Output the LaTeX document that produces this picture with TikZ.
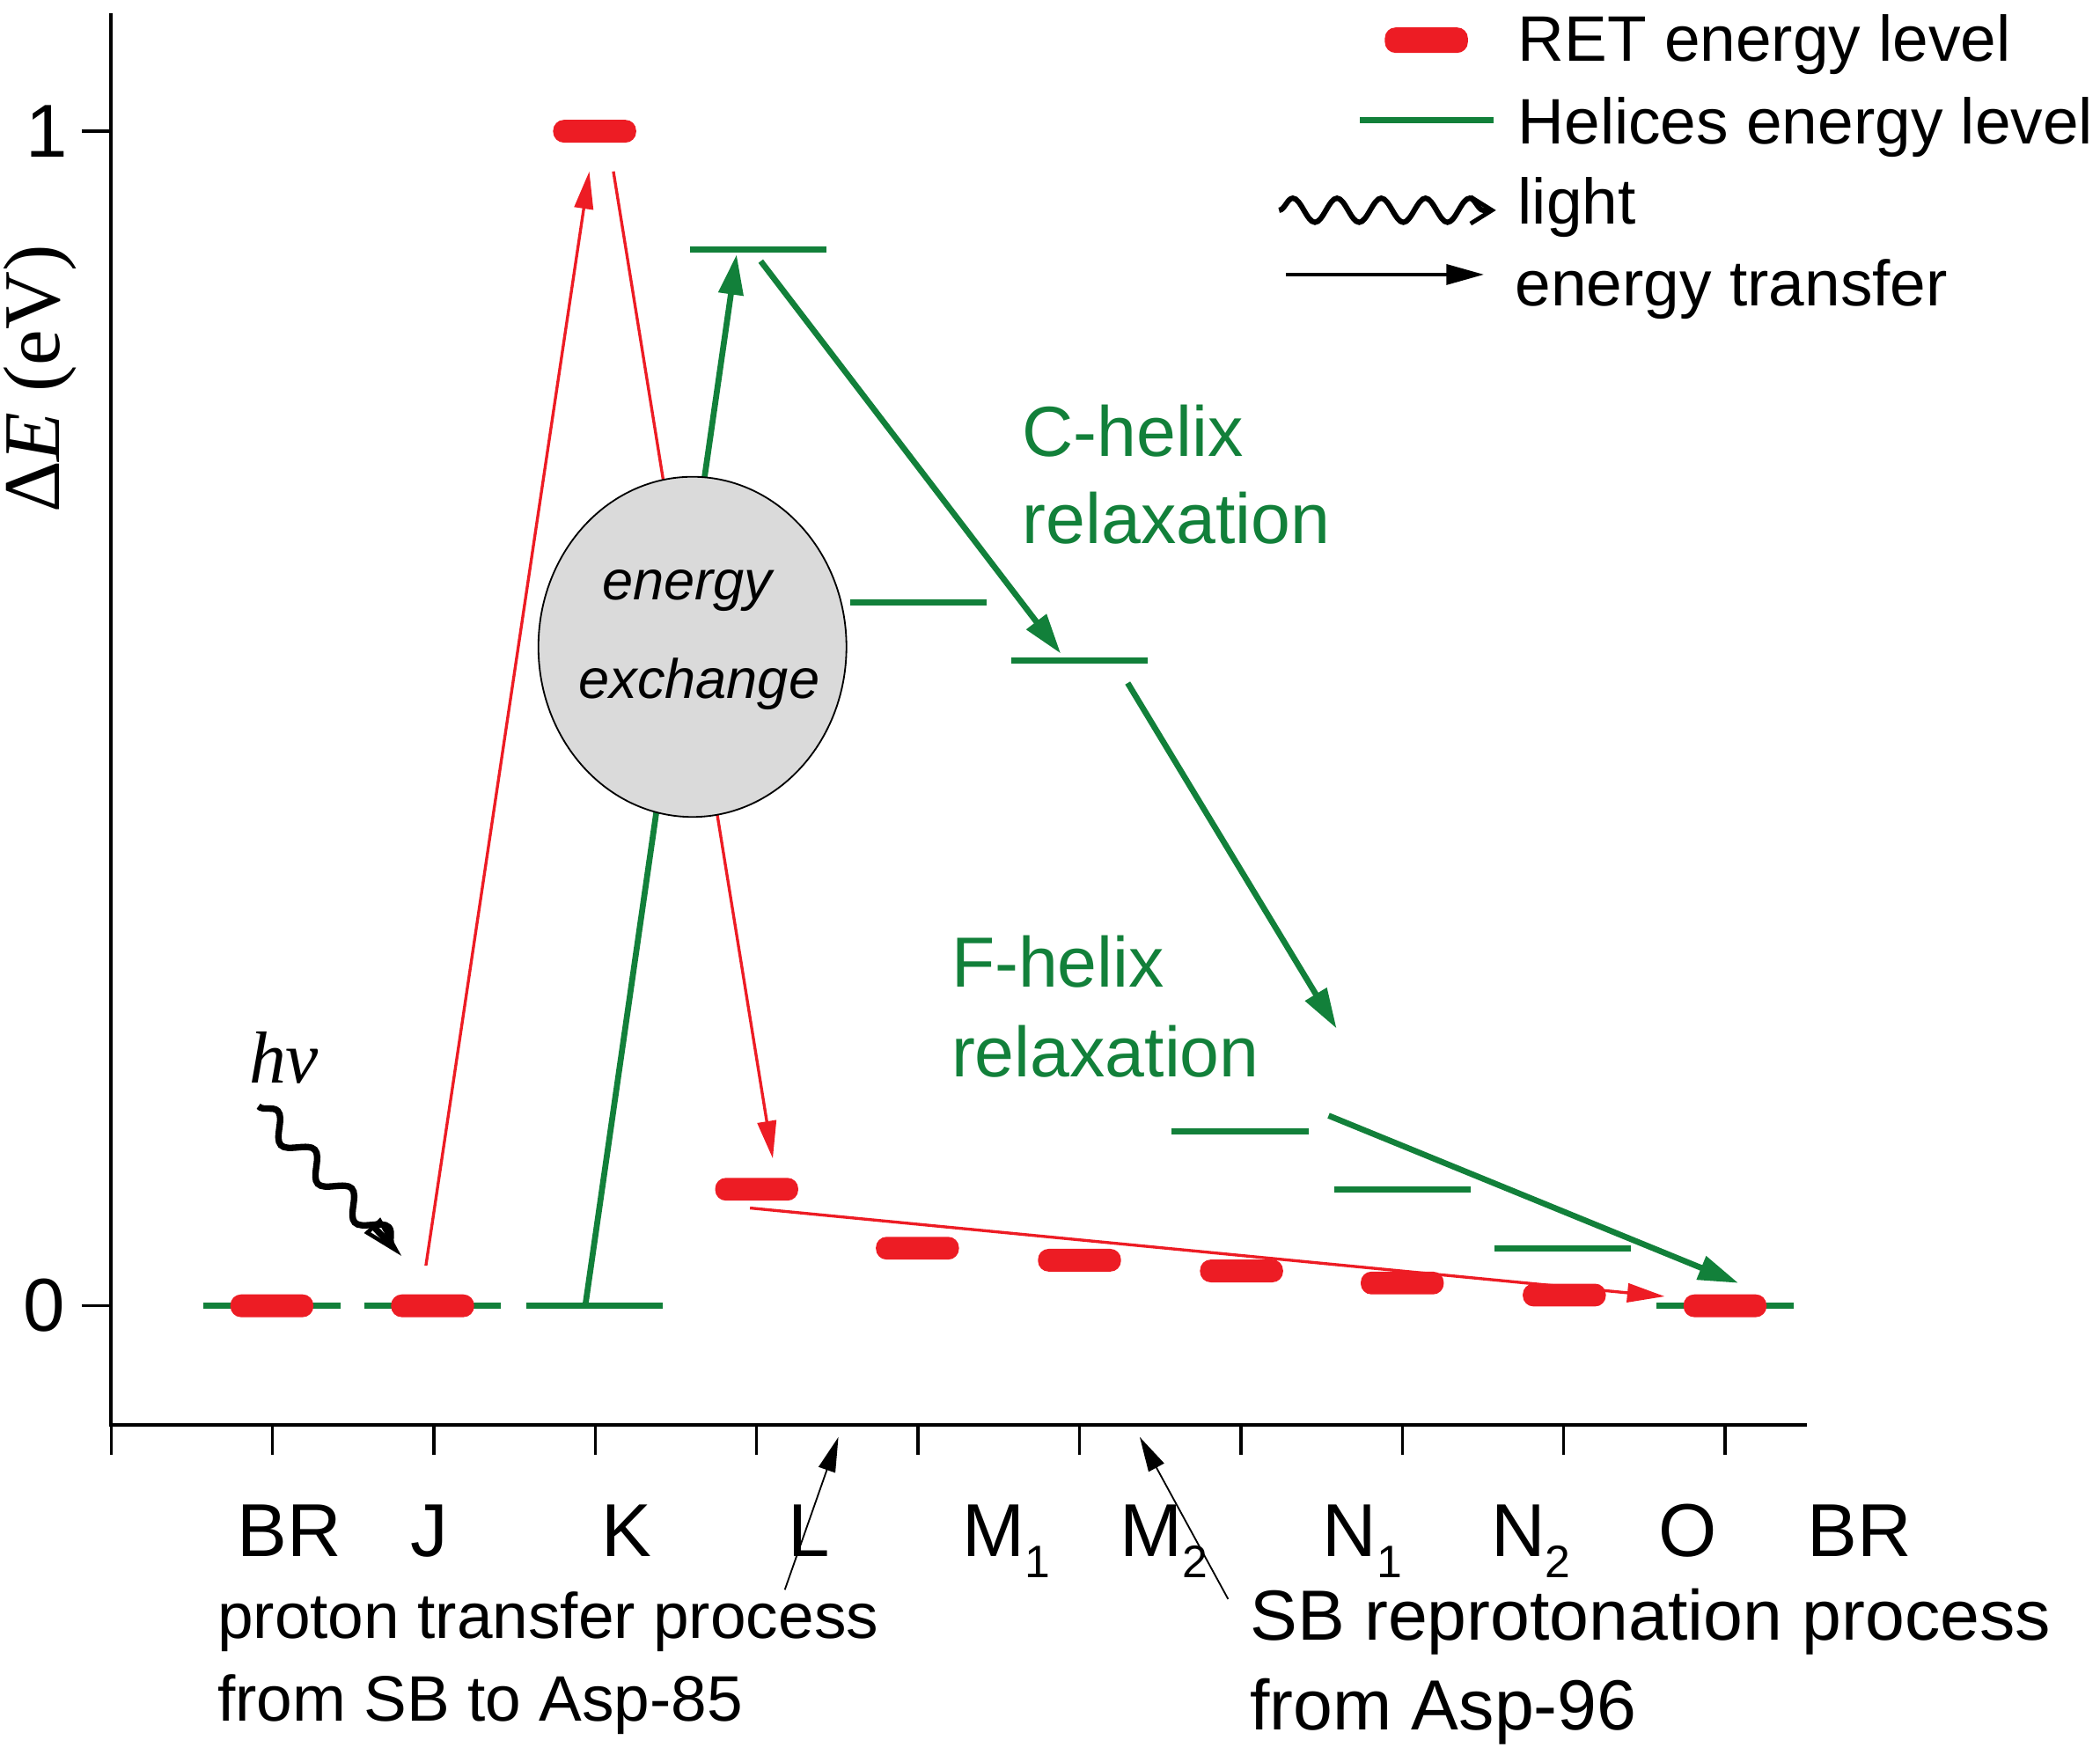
\documentclass[tikz,border=0pt]{standalone}
\usepackage{fontspec}
\setmainfont{Liberation Sans}
\newfontfamily\serifface{Liberation Serif}
\usetikzlibrary{arrows.meta,decorations.pathmorphing,shapes.geometric}
\definecolor{retred}{RGB}{237,28,36}
\definecolor{helgreen}{RGB}{18,128,58}
\definecolor{exgray}{RGB}{218,218,218}
\newcommand\lowidx[1]{\raisebox{-0.28em}{\fontsize{17}{17}\selectfont #1}}
\begin{document}
\begin{tikzpicture}[x=0.5pt,y=-0.5pt,
  retlvl/.style={fill=retred, rounded corners=4pt, minimum width=31pt, minimum height=8.5pt, inner sep=0pt},
  hellvl/.style={fill=helgreen, minimum width=51pt, minimum height=2.3pt, inner sep=0pt},
  redarr/.style={draw=retred, line width=1.1pt, -{Triangle[length=14pt,width=7pt]}},
  grnarr/.style={draw=helgreen, line width=2.2pt, -{Triangle[length=15pt,width=9pt]}},
  blkarr/.style={draw=black, line width=0.6pt, -{Triangle[length=13pt,width=6.5pt]}},
  axisline/.style={line width=1.4pt},
  tickmark/.style={line width=1.1pt},
  hvwave/.style={draw=black, line width=2.4pt, decorate,
     decoration={snake, amplitude=4pt, segment length=20pt, post length=2pt},
     -{Triangle[open, length=16pt, width=8pt, line width=1.5pt]}},
  legwave/.style={draw=black, line width=2pt, decorate,
     decoration={snake, amplitude=4.5pt, segment length=16.5pt, post length=2pt},
     -{Straight Barb[length=8pt, width=10pt, line width=1.6pt]}},
  legtxt/.style={font=\fontsize{24}{28}\selectfont, inner sep=0pt, anchor=west},
  anntxt/.style={font=\fontsize{24}{28}\selectfont, inner sep=0pt, anchor=west},
  anntxtb/.style={font=\fontsize{26.5}{30}\selectfont, inner sep=0pt, anchor=west},
  grntxt/.style={font=\fontsize{26.5}{30}\selectfont, text=helgreen, inner sep=0pt, anchor=west},
  statetxt/.style={font=\fontsize{28}{30}\selectfont, inner sep=0pt, anchor=base west},
  numtxt/.style={font=\fontsize{28}{30}\selectfont, inner sep=0pt},
  extxt/.style={font=\fontsize{20.75}{24}\selectfont\itshape, inner sep=0pt}
]
\useasboundingbox (0,0) rectangle (1568,1315);

% axes
\coordinate (ytop) at (83,10);
\coordinate (origin) at (83,1064);
\coordinate (xend) at (1349,1064);
\draw[axisline] (ytop) -- (origin) -- (xend);
\foreach \i in {0,...,10} {
  \draw[tickmark] (83+120.5*\i,1064) -- (83+120.5*\i,1086);
}
\draw[tickmark] (61,98) -- (83,98);
\draw[tickmark] (61,975) -- (83,975);
\node[numtxt] (one) at (35,98) {1};
\node[numtxt] (zero) at (33,975) {0};
\node[font=\fontsize{30}{32}\selectfont\serifface, rotate=90, inner sep=0pt] (ylab) at (30,283) {Δ\textit{E} (eV)};

% state labels
\node[statetxt] (sBR) at (177,1162) {BR};
\node[statetxt] (sJ) at (306,1162) {J};
\node[statetxt] (sK) at (449,1162) {K};
\node[statetxt] (sL) at (588,1162) {L};
\node[statetxt] (sM1) at (718,1162) {M\lowidx{1}};
\node[statetxt] (sM2) at (836,1162) {M\lowidx{2}};
\node[statetxt] (sN1) at (987,1162) {N\lowidx{1}};
\node[statetxt] (sN2) at (1113,1162) {N\lowidx{2}};
\node[statetxt] (sO) at (1238,1162) {O};
\node[statetxt] (sBRb) at (1349,1162) {BR};

% helix levels
\node[hellvl] (gBR) at (203,975) {};
\node[hellvl] (gJ) at (323,975) {};
\node[hellvl] (gK) at (444,975) {};
\node[hellvl] (gL) at (566,186) {};
\node[hellvl] (gM1) at (686,450) {};
\node[hellvl] (gM2) at (806,493) {};
\node[hellvl] (gN1) at (926,845) {};
\node[hellvl] (gN2) at (1047,888) {};
\node[hellvl] (gO) at (1167,932) {};
\node[hellvl] (gBRb) at (1288,975) {};

% arrow end points
\coordinate (jUp) at (318,945);
\coordinate (kIn) at (440,128);
\coordinate (kOut) at (458,128);
\coordinate (lIn) at (577,865);
\coordinate (lOut) at (560,902);
\coordinate (brIn) at (1243,968);
\coordinate (gkOut) at (437,975);
\coordinate (glIn) at (550,190);
\coordinate (glOut) at (568,195);
\coordinate (gm2In) at (792,488);
\coordinate (gm2Out) at (842,510);
\coordinate (gdIn) at (998,768);
\coordinate (gn1Out) at (992,833);
\coordinate (gbrIn) at (1298,958);

% arrows behind the ellipse
\draw[redarr] (jUp) -- (kIn);
\draw[redarr] (kOut) -- (lIn);
\draw[grnarr] (gkOut) -- (glIn);

% energy exchange ellipse
\node[ellipse, draw=black, line width=0.6pt, fill=exgray, minimum width=115pt, minimum height=127pt, inner sep=0pt] (ex) at (517,483) {};
\node[extxt] (exA) at (513,441) {energy};
\node[extxt] (exB) at (522,511) {exchange};

% other arrows
\draw[grnarr] (glOut) -- (gm2In);
\draw[grnarr] (gm2Out) -- (gdIn);
\draw[grnarr] (gn1Out) -- (gbrIn);
\draw[redarr] (lOut) -- (brIn);

% RET levels
\node[retlvl] (rBR) at (203,975) {};
\node[retlvl] (rJ) at (323,975) {};
\node[retlvl] (rK) at (444,98) {};
\node[retlvl] (rL) at (565,888) {};
\node[retlvl] (rM1) at (685,932) {};
\node[retlvl] (rM2) at (806,941) {};
\node[retlvl] (rN1) at (927,949) {};
\node[retlvl] (rN2) at (1047,958) {};
\node[retlvl] (rO) at (1168,967) {};
\node[retlvl] (rBRb) at (1288,975) {};

% green labels
\node[grntxt] (cA) at (763,322) {C-helix};
\node[grntxt] (cB) at (763,387) {relaxation};
\node[grntxt] (fA) at (710,718) {F-helix};
\node[grntxt] (fB) at (710,785) {relaxation};

% light
\node[font=\fontsize{27.5}{30}\selectfont\serifface\itshape, inner sep=0pt] (hnu) at (212,790) {hν};
\coordinate (hvA) at (193,826);
\coordinate (hvB) at (300,938);
\draw[hvwave] (hvA) -- (hvB);

% annotations
\node[anntxt] (ptA) at (162,1211) {proton transfer process};
\node[anntxt] (ptB) at (162,1273) {from SB to Asp-85};
\node[anntxtb] (sbA) at (933,1211) {SB reprotonation process};
\node[anntxtb] (sbB) at (933,1278) {from Asp-96};
\coordinate (ptTail) at (586,1187);
\coordinate (ptHead) at (626,1073);
\coordinate (sbTail) at (917,1194);
\coordinate (sbHead) at (851,1073);
\draw[blkarr] (ptTail) -- (ptHead);
\draw[blkarr] (sbTail) -- (sbHead);

% legend
\node[retlvl, minimum height=9.5pt] (legR) at (1065,30) {};
\node[hellvl, minimum width=50pt] (legG) at (1065,90) {};
\coordinate (legWa) at (955,157);
\coordinate (legWb) at (1117,157);
\draw[legwave] (legWa) -- (legWb);
\coordinate (legEa) at (960,205);
\coordinate (legEb) at (1108,205);
\draw[draw=black, line width=1.2pt, -{Triangle[length=14pt,width=7.5pt]}] (legEa) -- (legEb);
\node[legtxt] (lt1) at (1133,33) {RET energy level};
\node[legtxt] (lt2) at (1133,95) {Helices energy level};
\node[legtxt] (lt3) at (1133,155) {light};
\node[legtxt] (lt4) at (1131,216) {energy transfer};
\end{tikzpicture}
\end{document}
